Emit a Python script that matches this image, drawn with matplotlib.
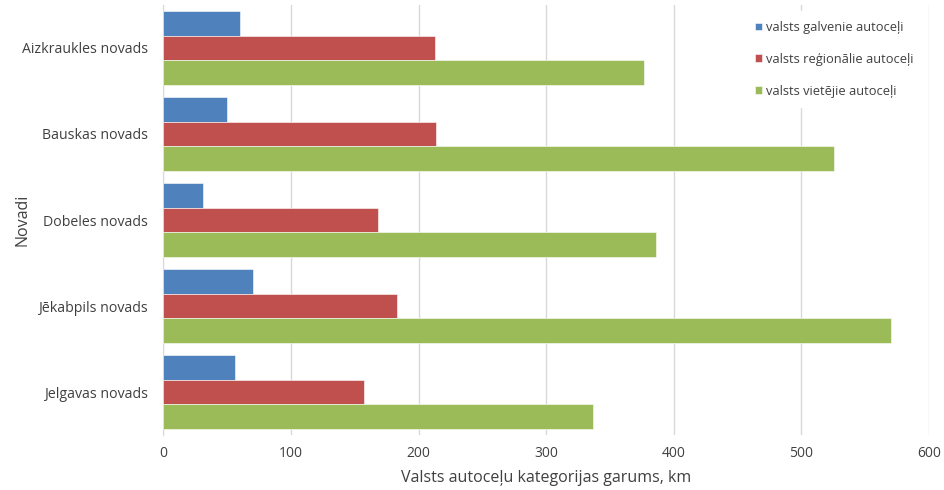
import numpy as np
from matplotlib import pyplot as plt

# dati
novadi = ["Aizkraukles novads", "Bauskas novads", "Dobeles novads",
          "Jēkabpils novads", "Jelgavas novads"]
galvenie = [60, 50, 31, 70, 56]
regionalie = [213, 214, 168, 183, 157]
vietejie = [377, 526, 386, 570, 337]
serijas = ["valsts galvenie autoceļi", "valsts reģionālie autoceļi",
           "valsts vietējie autoceļi"]
krasas = ["#4F81BD", "#C0504D", "#9BBB59"]
xticks = [0, 100, 200, 300, 400, 500, 600]

plt.rcParams['font.family'] = ['Open Sans', 'DejaVu Sans']

fig = plt.figure(figsize=(9.44, 4.9), dpi=100)
ax = fig.add_axes([0.173, 0.112, 0.811, 0.878])

y = np.arange(len(novadi))
h = 0.285
for i, (vals, nos, c) in enumerate(zip([galvenie, regionalie, vietejie], serijas, krasas)):
    ax.barh(y + (i - 1) * h, vals, height=h, color=c, label=nos,
            edgecolor="white", linewidth=0.4, zorder=3)

ax.set_ylim(len(novadi) - 0.5, -0.5)
ax.set_yticks(y)
ax.set_yticklabels(novadi, fontsize=10.2, color="#404040")
ax.set_xlim(0, 600)
ax.set_xticks(xticks)
ax.set_xticklabels([str(t) for t in xticks], fontsize=10, color="#404040")
ax.tick_params(length=0)
ax.tick_params(axis="x", pad=8)
ax.tick_params(axis="y", pad=11)
ax.grid(axis="x", color="#D9D9D9", linewidth=1, zorder=0)
for s in ["top", "right", "bottom"]:
    ax.spines[s].set_visible(False)
ax.spines["left"].set_color("#D9D9D9")

ax.set_xlabel("Valsts autoceļu kategorijas garums, km", fontsize=11.5,
              color="#404040")
ax.set_ylabel("Novadi", fontsize=11.5, color="#404040")
ax.xaxis.set_label_coords(0.5, -0.08)
ax.yaxis.set_label_coords(-0.174, 0.5)

leg = ax.legend(loc="upper left", bbox_to_anchor=(0.752, 1.0), fontsize=9.3,
                frameon=True, framealpha=1, edgecolor="white",
                handlelength=0.55, handleheight=0.55, handletextpad=0.3,
                labelspacing=1.45, borderpad=0.75)
for t in leg.get_texts():
    t.set_color("#404040")

fig.savefig("out.png", dpi=100)
